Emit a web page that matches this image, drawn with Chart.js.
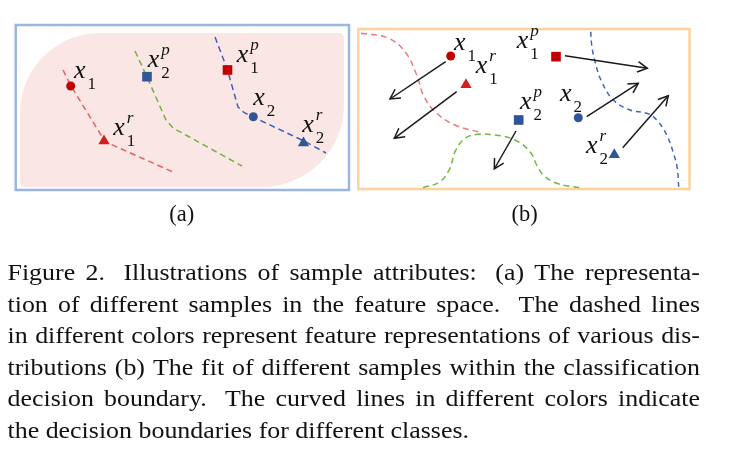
<!DOCTYPE html>
<html>
<head>
<meta charset="utf-8">
<script src="https://cdn.jsdelivr.net/npm/chart.js@4/dist/chart.umd.min.js"></script>
<style>
html,body{margin:0;padding:0;background:#fff;}
#wrap{width:729px;height:452px;position:relative;}
</style>
</head>
<body>
<div id="wrap"><canvas id="c" width="729" height="452"></canvas></div>
<script>
// ---------- DATA (diagram coordinates, y grows downward) ----------
// Panel (a): feature-space dashed paths
const redPathA   = [[63,70],[71,86],[101,135],[108,143],[173,172]];
const greenPathA = [[135,51],[147,77],[166,120],[173,128],[242,166]];
const bluePathA  = [[215,37],[227.5,70],[238,107],[244,112.5],[253,117],[304,141],[326,153]];

// Panel (b): decision boundaries
const redBoundB   = [[361,33.3],[388,38],[405,51.7],[416.7,75],[423.3,95],[435,111.7],[455,125],[480,132.3]];
const greenBoundB = [[423,187.7],[440,181.7],[450,168.3],[455,151.7],[465,138.3],[478,134.3],[495,135],[515,140],[530,151.7],[536.7,165],[543.3,175],[556.7,183.3],[580,187.7]];
const blueBoundB  = [[590.7,31.7],[591.7,45],[595,61.7],[601.7,81.7],[613.3,100],[630,110],[646.7,113.3],[656.7,120],[666.7,135],[674,155],[677.3,168.3],[678.7,186.7]];

// Samples: [x, y]
const redCircles    = [[70.7,86],[450.7,56]];
const redTriangles  = [[104,141],[466,84.8]];
const redSquares    = [[227.5,70],[556,56.7]];
const blueCircles   = [[253.3,116.7],[578.3,117.7]];
const blueTriangles = [[303.5,143],[614.3,154.8]];
const blueSquares   = [[147,76.7],[518.7,120]];

// Arrows in (b): start -> tip
const arrowStart = [[445.7,61.7],[456.7,91.7],[565,55.7],[586.7,116.7],[622.7,147.7],[516,131]];
const arrowEnd   = [[390,99],[394.3,138.3],[647.3,68.3],[638.3,83.3],[668.3,95.7],[494.3,169]];

// Sample labels: main letter position (left, baseline), subscript, superscript
const labelX   = [74, 147.7, 113.3, 236.7, 253.3, 302.3, 454, 475.7, 516.7, 520, 560, 586];
const labelY   = [78, 66.7, 135, 61.7, 105, 131.7, 50, 73, 48, 109, 101, 153];
const labelSub = ['1','2','1','1','2','2','1','1','1','2','2','2'];
const labelSup = ['','p','r','p','','r','','r','p','p','','r'];

const panelLabels = ['(a)','(b)'];
const panelLabelX = [181.7, 524.7];

const captionLines = [
  'Figure 2.  Illustrations of sample attributes:  (a) The representa-',
  'tion of different samples in the feature space.  The dashed lines',
  'in different colors represent feature representations of various dis-',
  'tributions (b) The fit of different samples within the classification',
  'decision boundary.  The curved lines in different colors indicate',
  'the decision boundaries for different classes.'
];

// ---------- STYLE ----------
const RED = '#c00000', BLUE = '#2f5597';
const toXY = a => a.map(p => ({x:p[0], y:p[1]}));

function pathDS(pts, color, tension, dash){
  return {data: toXY(pts), showLine:true, pointRadius:0, borderColor:color,
          borderWidth:1.5, borderDash:dash, tension:tension, fill:false, clip:false, order:2};
}
function markerDS(pts, color, style, r){
  return {data: toXY(pts), pointStyle:style, pointRadius:r, pointHoverRadius:r,
          backgroundColor:color, borderColor:color, borderWidth:0, showLine:false, clip:false, order:1};
}
const arrowDS = arrowStart.map((s,i)=>({
  data: toXY([s, arrowEnd[i]]), showLine:true, pointRadius:0, borderColor:'#1a1a1a',
  borderWidth:1.5, fill:false, clip:false, isArrow:true, order:1
}));

const datasets = [
  pathDS(redPathA,  '#e06262', 0, [6,4]),
  pathDS(greenPathA,'#6fb43f', 0, [6,4]),
  pathDS(bluePathA, '#3d62b5', 0, [6,4]),
  pathDS(redBoundB,  '#ea7b7b', 0.4, [6,4]),
  pathDS(greenBoundB,'#72b845', 0.4, [6,4]),
  pathDS(blueBoundB, '#4066ba', 0.4, [5,4]),
  ...arrowDS,
  markerDS(redCircles, RED, 'circle', 4.5),
  markerDS(redTriangles, '#d01f1f', 'triangle', 6.5),
  markerDS(redSquares, RED, 'rect', 6.8),
  markerDS(blueCircles, BLUE, 'circle', 4.5),
  markerDS(blueTriangles, BLUE, 'triangle', 6.5),
  markerDS(blueSquares, BLUE, 'rect', 6.8)
];

const SERIF = '"Liberation Serif","Times New Roman",serif';

const diagramPlugin = {
  id:'diagram',
  beforeDatasetsDraw(chart){
    const ctx = chart.ctx, X = chart.scales.x, Y = chart.scales.y;
    const px = v => X.getPixelForValue(v), py = v => Y.getPixelForValue(v);
    ctx.save();
    // pink region in (a)
    const x0=px(20), y0=py(33), x1=px(344), y1=py(187);
    const rTL=80, rTR=5, rBR=82, rBL=5;
    ctx.beginPath();
    ctx.moveTo(x0+rTL, y0);
    ctx.lineTo(x1-rTR, y0);
    ctx.arcTo(x1, y0, x1, y0+rTR, rTR);
    ctx.lineTo(x1, y1-rBR);
    ctx.arcTo(x1, y1, x1-rBR, y1, rBR);
    ctx.lineTo(x0+rBL, y1);
    ctx.arcTo(x0, y1, x0, y1-rBL, rBL);
    ctx.lineTo(x0, y0+rTL);
    ctx.arcTo(x0, y0, x0+rTL, y0, rTL);
    ctx.closePath();
    ctx.fillStyle = '#fbe6e6';
    ctx.fill();
    // panel frames
    ctx.lineWidth = 2.5;
    ctx.strokeStyle = '#9cb6e2';
    ctx.strokeRect(px(15.7), py(25), px(349)-px(15.7), py(190)-py(25));
    ctx.strokeStyle = '#fbd39b';
    ctx.strokeRect(px(358.3), py(29), px(689.5)-px(358.3), py(189)-py(29));
    ctx.restore();
  },
  afterDatasetsDraw(chart){
    const ctx = chart.ctx, X = chart.scales.x, Y = chart.scales.y;
    const px = v => X.getPixelForValue(v), py = v => Y.getPixelForValue(v);
    ctx.save();
    // arrow heads
    chart.data.datasets.forEach((ds,i)=>{
      if(!ds.isArrow) return;
      const pts = chart.getDatasetMeta(i).data;
      const a = pts[0], b = pts[1];
      const ang = Math.atan2(b.y-a.y, b.x-a.x);
      const L = 11, sp = 0.5;
      ctx.beginPath();
      ctx.moveTo(b.x - L*Math.cos(ang-sp), b.y - L*Math.sin(ang-sp));
      ctx.lineTo(b.x, b.y);
      ctx.lineTo(b.x - L*Math.cos(ang+sp), b.y - L*Math.sin(ang+sp));
      ctx.strokeStyle = '#1a1a1a';
      ctx.lineWidth = 1.5;
      ctx.stroke();
    });
    // sample labels
    ctx.fillStyle = '#111';
    ctx.textBaseline = 'alphabetic';
    ctx.textAlign = 'left';
    labelX.forEach((lx,i)=>{
      const x = px(lx), y = py(labelY[i]);
      ctx.font = 'italic 26px ' + SERIF;
      ctx.fillText('x', x, y);
      ctx.font = '17px ' + SERIF;
      ctx.fillText(labelSub[i], x+13.5, y+11);
      if(labelSup[i]){
        ctx.font = 'italic 17px ' + SERIF;
        ctx.fillText(labelSup[i], x+13.5, y-12);
      }
    });
    ctx.restore();
  },
  afterDraw(chart){
    const ctx = chart.ctx;
    ctx.save();
    ctx.fillStyle = '#111';
    ctx.textBaseline = 'alphabetic';
    ctx.font = '22.5px ' + SERIF;
    ctx.textAlign = 'center';
    panelLabels.forEach((t,i)=> ctx.fillText(t, panelLabelX[i], 221));
    // caption, justified
    ctx.textAlign = 'left';
    const left = 7.5, right = 700, W = right-left;
    const last = captionLines[captionLines.length-1];
    const s = (469-7.5) / ctx.measureText(last).width;
    const spaceW = ctx.measureText(' ').width * s;
    captionLines.forEach((line,i)=>{
      const y = 280 + i*31.5;
      const tokens = line.split(/( +)/);
      const words = [], weights = [];
      tokens.forEach(t=>{
        if(t.trim()==='') { if(t.length) weights.push(t.length>1 ? 1.8 : 1); }
        else words.push(t);
      });
      const ww = words.map(w=>ctx.measureText(w).width*s);
      const sumW = ww.reduce((a,b)=>a+b,0);
      const sumK = weights.reduce((a,b)=>a+b,0);
      const isLast = i===captionLines.length-1;
      const unit = isLast ? spaceW : (W - sumW)/sumK;
      let x = left;
      words.forEach((w,k)=>{
        ctx.save();
        ctx.translate(x, y);
        ctx.scale(s, 1);
        ctx.fillText(w, 0, 0);
        ctx.restore();
        x += ww[k] + (k<weights.length ? weights[k]*unit : 0);
      });
    });
    ctx.restore();
  }
};

new Chart(document.getElementById('c'), {
  type:'scatter',
  data:{datasets},
  options:{
    responsive:false,
    animation:false,
    events:[],
    layout:{padding:0, autoPadding:false},
    plugins:{legend:{display:false}, tooltip:{enabled:false}},
    scales:{
      x:{type:'linear', min:0, max:729, display:false, offset:false},
      y:{type:'linear', min:0, max:452, reverse:true, display:false, offset:false}
    }
  },
  plugins:[diagramPlugin]
});
</script>
</body>
</html>
